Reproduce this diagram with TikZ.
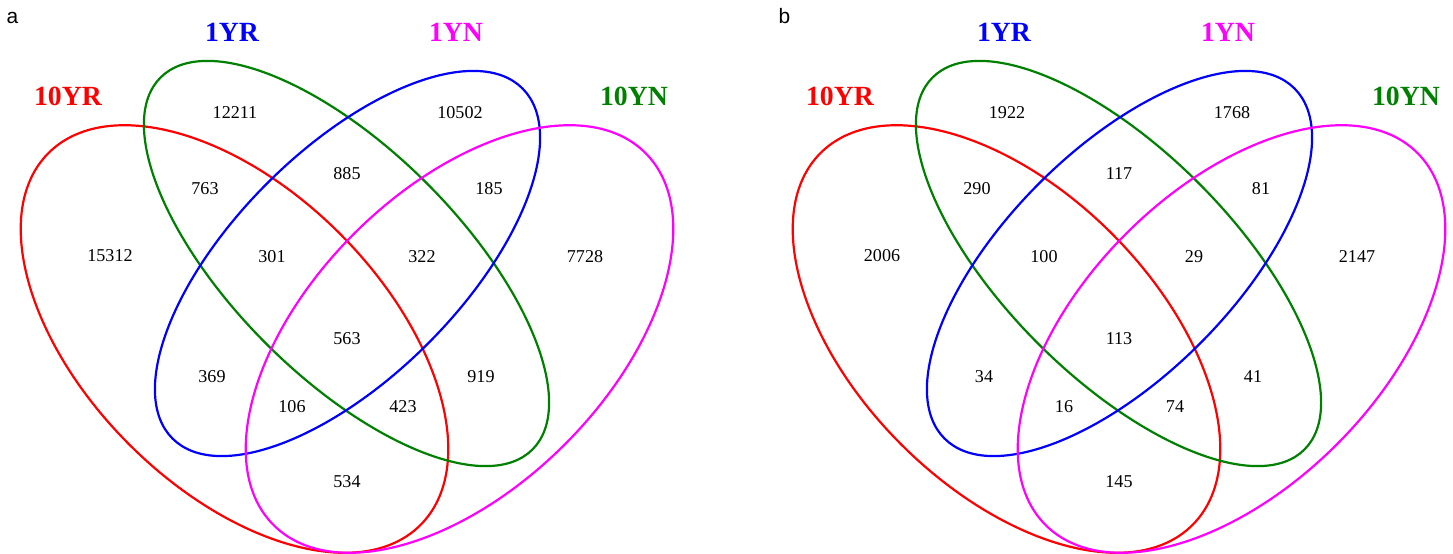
\documentclass[tikz,border=0pt]{standalone}
\usepackage{fontspec}
\setmainfont{Liberation Serif}
\setsansfont{Liberation Sans}
\usepackage{tikz}
\usetikzlibrary{positioning}
\definecolor{vgreen}{RGB}{0,128,0}
\definecolor{vmagenta}{RGB}{255,0,255}

\begin{document}
\begin{tikzpicture}[
  x=0.02cm, y=-0.02cm,
  every node/.style={inner sep=0pt},
  ring/.style={line width=1.25pt},
  count/.style={font=\fontsize{10.3}{12}\selectfont},
  setname/.style={font=\fontsize{15.8}{18}\selectfont\bfseries},
  panel/.style={font=\sffamily\fontsize{11.9}{14}\selectfont, anchor=base}
]
\useasboundingbox (0,0) rectangle (1453,554);
% Both panels: same four ellipses and set names
\foreach \p/\dx in {a/0, b/772} {
  \begin{scope}[shift={(\dx,0)}]
    \node[panel] (\p-tag) at (12.5,23.5) {\p};
    % Ellipses
    \draw[ring, red, rotate around={-45:(234.5,339)}] (234.5,339) ellipse [x radius=263, y radius=149];
    \draw[ring, vgreen, rotate around={-45:(346.5,263.5)}] (346.5,263.5) ellipse [x radius=263, y radius=113.5];
    \draw[ring, blue, rotate around={45:(347.5,263.5)}] (347.5,263.5) ellipse [x radius=247.5, y radius=113.5];
    \draw[ring, vmagenta, rotate around={45:(459.5,339)}] (459.5,339) ellipse [x radius=263, y radius=149];
    % Set names
    \node[setname, red] (\p-10YR) at (68,96) {10YR};
    \node[setname, blue] (\p-1YR) at (232,32) {1YR};
    \node[setname, vmagenta] (\p-1YN) at (456,32) {1YN};
    \node[setname, vgreen] (\p-10YN) at (634,96) {10YN};
  \end{scope}
}
% Counts, panel a
\foreach \x/\y/\n in {110/256/15312, 235/113/12211, 460/113/10502, 585/257/7728,
  205/189/763, 347/174/885, 489/189/185, 272/257/301, 422/257/322, 347/339/563,
  212/377/369, 481/377/919, 292/407/106, 403/407/423, 347/482/534} {
  \node[count] (a-\n) at (\x,\y) {\n};
}
% Counts, panel b
\foreach \x/\y/\n in {110/256/2006, 235/113/1922, 460/113/1768, 585/257/2147,
  205/189/290, 347/174/117, 489/189/81, 272/257/100, 422/257/29, 347/339/113,
  212/377/34, 481/377/41, 292/407/16, 403/407/74, 347/482/145} {
  \node[count] (b-\n) at (\x+772,\y) {\n};
}
\end{tikzpicture}
\end{document}
